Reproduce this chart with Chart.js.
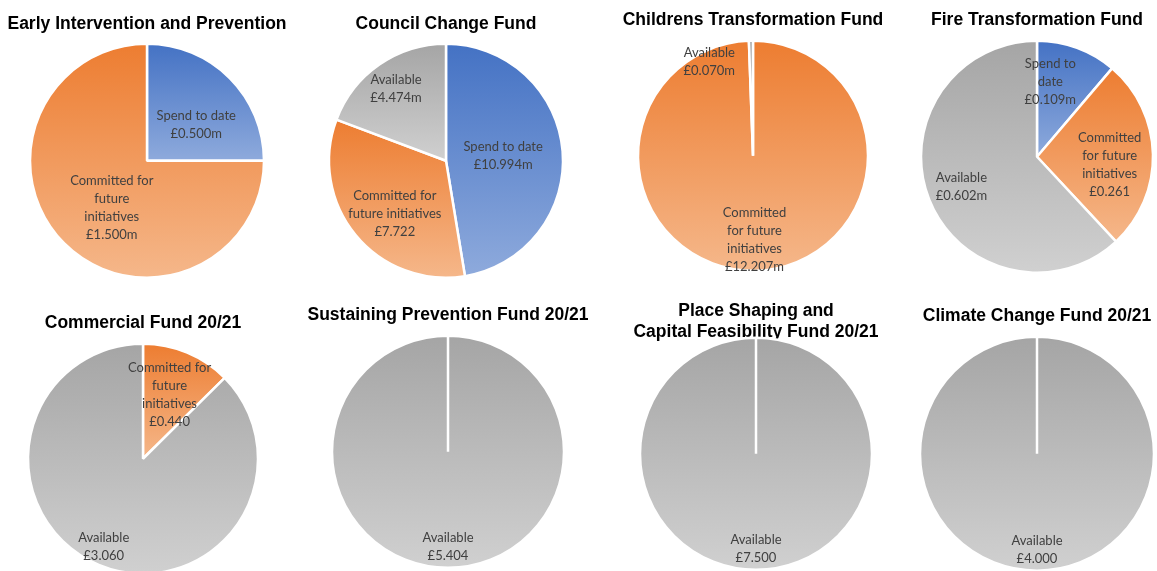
<!DOCTYPE html>
<html>
<head>
<meta charset="utf-8">
<script src="https://cdn.jsdelivr.net/npm/chart.js@4.4.1/dist/chart.umd.min.js"></script>
<style>
	html, body { margin: 0; padding: 0; background: #fff; }
	#painel { position: relative; width: 1157px; height: 571px; overflow: hidden; background: #fff; }
	#painel canvas { position: absolute; }
</style>
</head>
<body>
<div id="painel"></div>
<script>
// categories (same order in every pie, clockwise from 12 o'clock)
var categorias = ['Spend to date', 'Committed for future initiatives', 'Available'];

var titulosFundos = [
	'Early Intervention and Prevention',
	'Council Change Fund',
	'Childrens Transformation Fund',
	'Fire Transformation Fund',
	'Commercial Fund 20/21',
	'Sustaining Prevention Fund 20/21',
	['Place Shaping and', 'Capital Feasibility Fund 20/21'],
	'Climate Change Fund 20/21'
];

// values in £m
var gastoAteData   = [0.500, 10.994, 0,      0.109, 0,     0,     0,     0];
var comprometido   = [1.500, 7.722,  12.207, 0.261, 0.440, 0,     0,     0];
var disponivel     = [0,     4.474,  0.070,  0.602, 3.060, 5.404, 7.500, 4.000];

// how each data label is written (name lines, then value suffix)
var nomesRotulos = [
	[['Spend to date'], ['Committed for', 'future', 'initiatives'], ['Available']],
	[['Spend to date'], ['Committed for', 'future initiatives'], ['Available']],
	[['Spend to date'], ['Committed', 'for future', 'initiatives'], ['Available']],
	[['Spend to', 'date'], ['Committed', 'for future', 'initiatives'], ['Available']],
	[['Spend to date'], ['Committed for', 'future', 'initiatives'], ['Available']],
	[['Spend to date'], ['Committed for', 'future', 'initiatives'], ['Available']],
	[['Spend to date'], ['Committed for', 'future', 'initiatives'], ['Available']],
	[['Spend to date'], ['Committed for', 'future', 'initiatives'], ['Available']]
];
var sufixos = [
	['m', 'm', ''], ['m', '', 'm'], ['', 'm', 'm'], ['m', '', 'm'],
	['', '', ''], ['', '', ''], ['', '', ''], ['', '', '']
];

// gradient top / bottom per category
var paleta = [
	['#4472c4', '#8eaadc'],
	['#ed7d31', '#f5b78a'],
	['#a5a5a5', '#d0d0d0']
];

// placement of each pie on the page (style only)
var disposicao = [
	{cx: 147,  cy: 160, r: 117, tituloY: 24,  rot: [[0.52, 54], [0.50, 217], [0.6, null]]},
	{cx: 446,  cy: 160, r: 117, tituloY: 24,  rot: [[0.49, null], [0.63, 224], [0.75, null]]},
	{cx: 753,  cy: 155, r: 115, tituloY: 20,  rot: [[0.5, null], [0.73, null], [0.9, 335]]},
	{cx: 1037, cy: 156, r: 116, tituloY: 20,  rot: [[0.66, 10], [0.63, 96], [0.7, null]]},
	{cx: 143,  cy: 458, r: 115, tituloY: 323, rot: [[0.5, null], [0.6, null], [0.84, 204]]},
	{cx: 448,  cy: 451, r: 116, tituloY: 315, rot: [[0.5, null], [0.6, null], [0.82, null]]},
	{cx: 756,  cy: 453, r: 116, tituloY: 311, rot: [[0.5, null], [0.6, null], [0.82, null]]},
	{cx: 1037, cy: 453, r: 117, tituloY: 316, rot: [[0.5, null], [0.6, null], [0.82, null]]}
];

var ALTURA_LINHA_TITULO = 17.5 * 1.2;

function preenchimentoFatia(raio) {
	return function(context) {
		var i = context.dataIndex;
		var cores = paleta[i];
		var area = context.chart.chartArea;
		if (!area) return cores[0];
		var dados = context.dataset.data;
		var total = 0, antes = 0;
		dados.forEach(function(v, k) { total += v; if (k < i) antes += v; });
		var cy = (area.top + area.bottom) / 2;
		var a0 = -Math.PI / 2 + 2 * Math.PI * antes / total;
		var a1 = a0 + 2 * Math.PI * dados[i] / total;
		var ys = [cy, cy + raio * Math.sin(a0), cy + raio * Math.sin(a1)];
		[-Math.PI / 2, Math.PI / 2, 3 * Math.PI / 2].forEach(function(k) {
			if (k >= a0 - 1e-6 && k <= a1 + 1e-6) ys.push(cy + raio * Math.sin(k));
		});
		var topo = Math.min.apply(null, ys), base = Math.max.apply(null, ys);
		if (base - topo < 1) base = topo + 1;
		var g = context.chart.ctx.createLinearGradient(0, topo, 0, base);
		g.addColorStop(0, cores[0]);
		g.addColorStop(1, cores[1]);
		return g;
	};
}

function pluginRotulos(indice) {
	return {
		id: 'rotulosFatias' + indice,
		afterDatasetsDraw: function(chart) {
			var meta = chart.getDatasetMeta(0);
			var pos = disposicao[indice];
			var ctx = chart.ctx;
			ctx.save();
			ctx.font = '13px Lato';
			ctx.fillStyle = '#404040';
			ctx.textAlign = 'center';
			ctx.textBaseline = 'middle';
			meta.data.forEach(function(arco, k) {
				var valor = chart.data.datasets[0].data[k];
				if (!valor) return;
				var linhas = nomesRotulos[indice][k].concat('£' + valor.toFixed(3) + sufixos[indice][k]);
				var conf = pos.rot[k];
				var ang = conf[1] === null ? (arco.startAngle + arco.endAngle) / 2 : (conf[1] - 90) * Math.PI / 180;
				var d = conf[0] * arco.outerRadius;
				var x = arco.x + Math.cos(ang) * d;
				var y = arco.y + Math.sin(ang) * d;
				linhas.forEach(function(txt, j) {
					ctx.fillText(txt, x, y + (j - (linhas.length - 1) / 2) * 18);
				});
			});
			ctx.restore();
		}
	};
}

function criarPizza(indice) {
	var pos = disposicao[indice];
	var titulo = titulosFundos[indice];
	var nLinhas = Array.isArray(titulo) ? titulo.length : 1;
	var largura = 300;
	var topo = pos.tituloY - ALTURA_LINHA_TITULO / 2;
	var fimTitulo = topo + ALTURA_LINHA_TITULO * nLinhas;
	var fundo = pos.cy + pos.r + 6;
	var ajuste = 2 * pos.cy - fimTitulo - fundo;
	var padTitulo = ajuste > 0 ? ajuste : 0;
	var padBaixo = ajuste < 0 ? -ajuste : 0;

	var canvas = document.createElement('canvas');
	canvas.width = largura;
	canvas.height = Math.round(fundo - topo);
	canvas.style.left = (pos.cx - largura / 2) + 'px';
	canvas.style.top = topo + 'px';
	document.getElementById('painel').appendChild(canvas);

	new Chart(canvas.getContext('2d'), {
		type: 'pie',
		data: {
			labels: categorias,
			datasets: [{
				data: [gastoAteData[indice], comprometido[indice], disponivel[indice]],
				backgroundColor: preenchimentoFatia(pos.r),
				borderColor: '#ffffff',
				borderWidth: 2.5,
				radius: pos.r
			}]
		},
		options: {
			responsive: false,
			animation: false,
			events: [],
			layout: { padding: { top: 0, bottom: padBaixo, left: 0, right: 0 } },
			plugins: {
				legend: { display: false },
				tooltip: { enabled: false },
				title: {
					display: true,
					text: titulo,
					color: '#000000',
					font: { family: "'Liberation Sans', Arial, sans-serif", size: 17.5, weight: 'bold', lineHeight: 1.2 },
					padding: { top: 0, bottom: padTitulo }
				}
			}
		},
		plugins: [pluginRotulos(indice)]
	});
}

titulosFundos.forEach(function(t, i) {
	criarPizza(i);
});
</script>
</body>
</html>
